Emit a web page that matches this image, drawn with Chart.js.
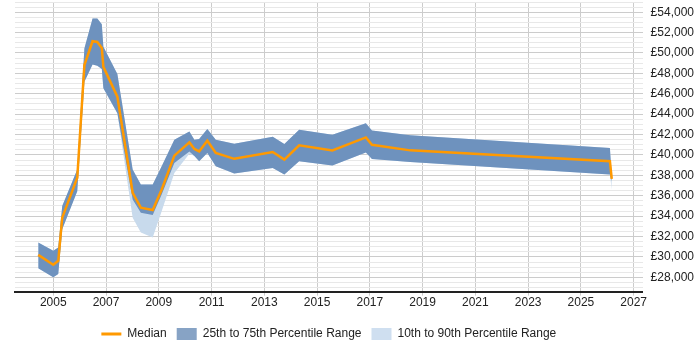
<!DOCTYPE html>
<html>
<head>
<meta charset="utf-8">
<script src="https://cdn.jsdelivr.net/npm/chart.js@4/dist/chart.umd.min.js"></script>
<style>
  html, body { margin: 0; padding: 0; background: #fff; }
  #wrap { width: 700px; height: 350px; }
</style>
</head>
<body>
<div id="wrap"><canvas id="chart"></canvas></div>
<script>
// time points (decimal years)
const years = [2004.43, 2005.00, 2005.19, 2005.34, 2005.91, 2006.18, 2006.49, 2006.67, 2006.84, 2006.90,
  2007.43, 2008.01, 2008.32, 2008.77, 2009.11, 2009.59, 2010.16, 2010.35, 2010.53, 2010.84,
  2011.16, 2011.86, 2013.32, 2013.76, 2014.32, 2015.58, 2016.85, 2017.08, 2018.53, 2026.10, 2026.17];

const median = [30200, 29230, 29620, 33850, 37760, 48810, 51150, 51080, 50500, 48640,
  45720, 36290, 34830, 34600, 36610, 39930, 41230, 40590, 40350, 41400,
  40200, 39620, 40290, 39540, 40940, 40450, 41720, 41000, 40450, 39380, 37660];

const p75 = [31410, 30600, 30930, 34990, 38570, 50440, 53370, 53370, 52810, 50600,
  47930, 38570, 37100, 37100, 38890, 41490, 42300, 41490, 41560, 42540,
  41490, 41100, 41790, 41070, 42470, 41980, 43120, 42400, 41930, 40680, 37900];

const p25 = [28880, 28000, 28320, 32710, 36450, 47180, 48880, 48740, 48420, 46540,
  44100, 35640, 34340, 34110, 36130, 39220, 40350, 39900, 39380, 40200,
  38890, 38180, 38730, 38080, 39380, 38960, 40250, 39610, 39300, 38080, 37400];

const p90 = [31410, 30600, 30930, 34990, 38570, 50440, 53370, 53370, 52810, 50600,
  47930, 38570, 37100, 37100, 38890, 41490, 42300, 41490, 41560, 42540,
  41490, 41100, 41790, 41070, 42470, 41980, 43120, 42400, 41930, 40680, 37900];

const p10 = [28880, 28000, 28320, 32710, 36450, 47180, 48880, 48740, 48420, 46540,
  44100, 33850, 32390, 31900, 34470, 38240, 40130, 39900, 39380, 40200,
  38890, 38180, 38730, 38080, 39380, 38960, 40250, 39610, 39300, 38080, 36600];

const xTickYears = [2005, 2007, 2009, 2011, 2013, 2015, 2017, 2019, 2021, 2023, 2025, 2027];
const yTickLabels = [28000, 30000, 32000, 34000, 36000, 38000, 40000, 42000, 44000, 46000, 48000, 50000, 52000, 54000];

const legendNames = ['Median', '25th to 75th Percentile Range', '10th to 90th Percentile Range'];

function pts(vals) {
    return vals.map(function(v, i) { return { x: years[i], y: v }; });
}

const ORANGE = '#ff9900';
const DARK = '#6e92be';
const LIGHT = '#c8daec';

Chart.defaults.font.family = "'Liberation Sans', Arial, sans-serif";
Chart.defaults.font.size = 12;
Chart.defaults.color = '#222';

// centre the legend under the plot area, not the whole canvas
const legendCentre = {
    id: 'legendCentre',
    afterLayout: function(chart) {
        chart.legend.left = chart.chartArea.left;
        chart.legend.right = chart.chartArea.right;
    }
};

const ctx = document.getElementById('chart').getContext('2d');

new Chart(ctx, {
    type: 'line',
    data: {
        datasets: [
            { label: legendNames[0], data: pts(median), borderColor: ORANGE, borderWidth: 2.5, fill: false, pointRadius: 0, tension: 0 },
            { label: 'p75', data: pts(p75), borderWidth: 0, borderColor: DARK, backgroundColor: DARK, fill: '+1', pointRadius: 0, tension: 0 },
            { label: 'p25', data: pts(p25), borderWidth: 0, borderColor: DARK, fill: false, pointRadius: 0, tension: 0 },
            { label: 'p90', data: pts(p90), borderWidth: 0, borderColor: LIGHT, backgroundColor: LIGHT, fill: '+1', pointRadius: 0, tension: 0 },
            { label: 'p10', data: pts(p10), borderWidth: 0, borderColor: LIGHT, fill: false, pointRadius: 0, tension: 0 }
        ]
    },
    plugins: [legendCentre],
    options: {
        responsive: true,
        maintainAspectRatio: false,
        animation: false,
        layout: { padding: { left: 15, right: -2, top: 2, bottom: 0 } },
        plugins: {
            tooltip: { enabled: false },
            legend: {
                position: 'bottom',
                labels: {
                    usePointStyle: true,
                    pointStyleWidth: 20,
                    padding: 10,
                    color: '#222',
                    generateLabels: function() {
                        return [
                            { text: legendNames[0], pointStyle: 'line', strokeStyle: ORANGE, fillStyle: ORANGE, lineWidth: 3, fontColor: '#222' },
                            { text: legendNames[1], pointStyle: 'rect', strokeStyle: '#87a3c5', fillStyle: '#87a3c5', lineWidth: 0, fontColor: '#222' },
                            { text: legendNames[2], pointStyle: 'rect', strokeStyle: '#cfdff0', fillStyle: '#cfdff0', lineWidth: 0, fontColor: '#222' }
                        ];
                    }
                }
            }
        },
        scales: {
            x: {
                type: 'linear',
                min: 2003.55,
                max: 2027.34,
                afterBuildTicks: function(scale) {
                    scale.ticks = xTickYears.map(function(v) { return { value: v }; });
                },
                afterFit: function(scale) { scale.height += 8; },
                ticks: {
                    padding: 0,
                    autoSkip: false,
                    maxRotation: 0,
                    color: '#222',
                    callback: function(v) { return String(v); }
                },
                grid: { color: '#cccccc', tickLength: 4, drawTicks: true },
                border: { display: true, color: '#222', width: 2 }
            },
            y: {
                position: 'right',
                min: 26600,
                max: 55000,
                afterBuildTicks: function(scale) {
                    // minor grid every 500, labels only at the listed values
                    const t = [];
                    for (let v = 27000; v <= 55000; v += 500) t.push({ value: v });
                    scale.ticks = t;
                },
                afterFit: function(scale) {
                    scale.paddingTop = 0;
                    scale.paddingBottom = 0;
                },
                ticks: {
                    autoSkip: false,
                    padding: 8,
                    color: '#222',
                    callback: function(v) {
                        return yTickLabels.indexOf(v) >= 0 ? '£' + v.toLocaleString('en-GB') : '';
                    }
                },
                grid: {
                    drawTicks: false,
                    color: function(c) {
                        if (!c.tick) return '#e8e8e8';
                        return yTickLabels.indexOf(c.tick.value) >= 0 ? '#cccccc' : '#e8e8e8';
                    }
                },
                border: { display: false }
            }
        }
    }
});
</script>
</body>
</html>
